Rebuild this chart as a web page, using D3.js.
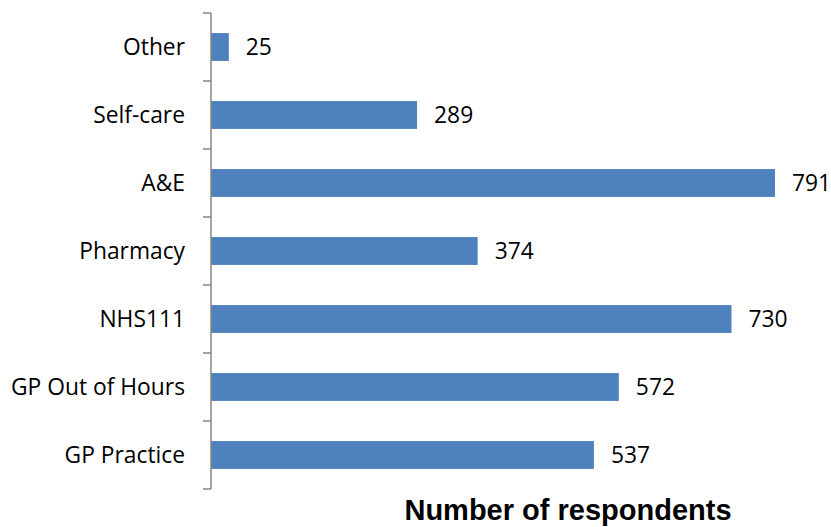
<!DOCTYPE html>
<html><head><meta charset="utf-8">
<script src="https://cdn.jsdelivr.net/npm/d3@7"></script>
<style>body{margin:0;background:#fff}</style>
</head><body>
<script>
const categories = ["Other","Self-care","A&E","Pharmacy","NHS111","GP Out of Hours","GP Practice"];
const values = [25,289,791,374,730,572,537];
const axisTitle = "Number of respondents";

const W = 831, H = 527;
const svg = d3.select("body").append("svg").attr("width", W).attr("height", H);
const x = d3.scaleLinear().domain([0, 791]).range([211, 775]);
const y = d3.scaleBand().domain(categories).range([13, 489]).paddingInner(0.59).paddingOuter(0.295);

svg.selectAll("rect.bar").data(categories).enter().append("rect")
  .attr("x", x(0)).attr("y", d => y(d))
  .attr("width", (d,i) => x(values[i]) - x(0)).attr("height", y.bandwidth())
  .attr("fill", "#4f81bd");

const g = svg.append("g").attr("stroke", "#868686").attr("stroke-width", 1.5);
g.append("line").attr("x1", 211).attr("x2", 211).attr("y1", 13).attr("y2", 489);
const bounds = d3.range(categories.length + 1).map(i => 13 + i * (476 / categories.length));
g.selectAll("line.t").data(bounds).enter().append("line")
  .attr("x1", 203).attr("x2", 211).attr("y1", d => d).attr("y2", d => d);

svg.selectAll("text.cat").data(categories).enter().append("text")
  .attr("x", 185).attr("y", d => y(d) + y.bandwidth()/2)
  .attr("dy", "0.35em").attr("text-anchor", "end")
  .attr("font-family", "Open Sans, sans-serif").attr("font-size", 22.8).attr("fill", "#000")
  .text(d => d);

svg.selectAll("text.val").data(categories).enter().append("text")
  .attr("x", (d,i) => x(values[i]) + 17).attr("y", d => y(d) + y.bandwidth()/2)
  .attr("dy", "0.35em")
  .attr("font-family", "Open Sans, sans-serif").attr("font-size", 22.8).attr("fill", "#000")
  .text((d,i) => values[i]);

svg.append("text").attr("x", 568).attr("y", 520).attr("text-anchor", "middle")
  .attr("font-family", "Liberation Sans, Arial, sans-serif").attr("font-weight", "bold")
  .attr("font-size", 29).attr("fill", "#000").text(axisTitle);
</script>
</body></html>
